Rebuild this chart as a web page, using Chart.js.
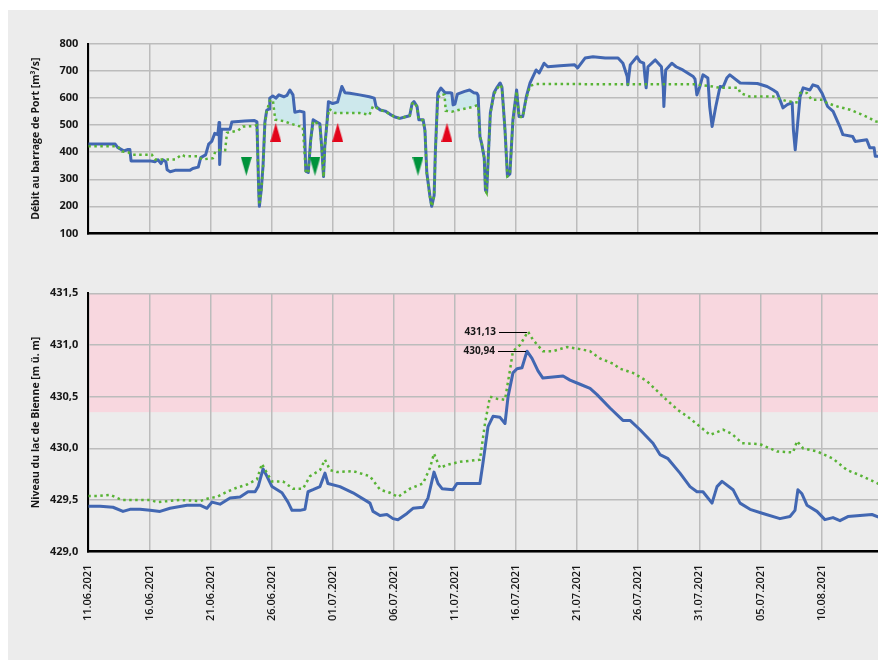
<!DOCTYPE html>
<html>
<head>
<meta charset="utf-8">
<script src="https://cdn.jsdelivr.net/npm/chart.js@4/dist/chart.umd.min.js"></script>
<style>
    html, body { margin: 0; padding: 0; background: #fff; overflow: hidden; }
    body { width: 878px; height: 668px; position: relative; }
    #panel { position: absolute; left: 8px; top: 10px; width: 900px; height: 650px; background: #ececec; }
    canvas { position: absolute; left: 0; }
    #flow { top: 0; width: 900px; height: 250px; }
    #lake { top: 250px; width: 900px; height: 418px; }
</style>
</head>
<body>
<div id="panel"></div>
<canvas id="flow" width="900" height="250"></canvas>
<canvas id="lake" width="900" height="418"></canvas>
<script>
"use strict";

// x = jours depuis le 11.06.2021
const dateLabels = ['11.06.2021', '16.06.2021', '21.06.2021', '26.06.2021', '01.07.2021', '06.07.2021', '11.07.2021',
    '16.07.2021', '21.07.2021', '26.07.2021', '31.07.2021', '05.07.2021', '10.08.2021', '15.08.2021'];

// débit mesuré au barrage de Port [jour, m3/s]
const flowMeasured = [[0,430],[2.2,430],[2.4,418],[2.9,405],[3.25,410],[3.4,410],[3.5,368],[5.05,368],[5.45,365],[5.7,372],
    [5.95,358],[6.1,372],[6.35,365],[6.45,335],[6.7,328],[7.1,333],[8.3,333],[8.55,340],[9.0,345],[9.2,380],[9.6,390],
    [9.85,430],[10.1,440],[10.35,470],[10.6,465],[10.7,510],[10.75,355],[10.9,485],[11.6,485],[11.75,512],[12.8,515],
    [13.6,517],[13.8,512],[13.95,250],[14.0,200],[14.15,260],[14.3,350],[14.45,510],[14.6,555],[14.8,560],[14.85,600],
    [15.1,608],[15.35,600],[15.6,612],[16.0,605],[16.25,610],[16.5,630],[16.75,612],[16.9,548],[17.3,552],[17.65,548],
    [17.8,330],[18.0,325],[18.2,446],[18.4,520],[18.7,512],[18.95,505],[19.1,420],[19.25,310],[19.35,420],[19.55,520],
    [19.65,587],[20.0,580],[20.4,585],[20.75,643],[21.0,620],[21.4,618],[22.2,612],[23.0,605],[23.4,600],[23.55,568],
    [23.9,556],[24.3,552],[24.7,540],[25.1,530],[25.5,525],[25.9,530],[26.3,535],[26.5,580],[26.65,587],[26.9,570],
    [27.05,520],[27.4,520],[27.55,480],[27.7,325],[27.95,240],[28.1,200],[28.3,240],[28.4,400],[28.6,619],[28.85,637],
    [29.2,620],[29.6,620],[29.75,618],[29.85,575],[30.0,578],[30.2,615],[30.8,625],[31.2,630],[31.55,620],[31.8,618],
    [31.9,610],[32.05,458],[32.2,430],[32.4,380],[32.5,260],[32.6,252],[32.75,400],[32.9,545],[33.2,620],[33.45,640],
    [33.7,656],[33.85,641],[34.1,483],[34.3,311],[34.5,320],[34.75,520],[35.05,630],[35.25,532],[35.55,532],[35.85,606],
    [36.15,656],[36.65,704],[36.9,693],[37.3,729],[37.6,716],[38.6,720],[39.8,723],[40.05,712],[40.65,748],[41.3,753],
    [42.3,748],[43.35,748],[43.75,729],[44.1,680],[44.15,649],[44.35,723],[44.9,753],[45.15,735],[45.45,729],[45.55,680],
    [45.65,638],[45.8,716],[46.4,741],[46.9,716],[47.05,640],[47.1,569],[47.25,704],[47.75,729],[48.1,716],[48.65,704],
    [49.5,680],[49.65,670],[49.8,612],[50.05,643],[50.3,686],[50.7,674],[50.85,569],[51.05,495],[51.35,569],[51.7,643],
    [51.95,641],[52.25,674],[52.5,686],[53.35,656],[54.75,654],[55.55,643],[56.05,630],[56.35,621],[56.6,594],[56.85,564],
    [57.2,576],[57.6,583],[57.7,483],[57.85,409],[58.0,483],[58.25,606],[58.5,638],[59.05,630],[59.3,649],[59.7,643],
    [60.05,618],[60.5,569],[60.95,551],[61.5,495],[61.75,465],[62.55,458],[62.75,440],[63.7,446],[63.95,417],[64.3,417],
    [64.4,385],[65,385]];

// débit de référence (pointillé)
const flowReference = [[0,422],[2.4,422],[2.75,403],[3.25,400],[3.6,391],[5.2,391],[5.45,373],[7.1,373],[7.65,391],
    [7.9,385],[9.0,385],[9.3,373],[10.2,378],[10.4,403],[10.9,410],[11.2,408],[11.35,472],[12.25,480],[12.65,495],
    [13.6,497],[13.8,500],[13.95,250],[14.0,205],[14.15,255],[14.3,345],[14.45,505],[14.6,550],[14.85,590],[15.1,594],
    [15.3,520],[16.0,515],[16.6,505],[17.2,497],[17.55,495],[17.8,330],[18.0,322],[18.2,440],[18.4,515],[18.7,508],
    [18.95,500],[19.1,415],[19.25,308],[19.35,415],[19.55,515],[19.7,560],[20.2,545],[22.2,545],[23.0,538],[23.3,570],
    [23.55,565],[23.9,556],[24.3,550],[24.7,540],[25.1,530],[25.5,525],[25.9,530],[26.3,535],[26.5,578],[26.65,585],
    [26.9,568],[27.05,520],[27.4,518],[27.55,478],[27.7,322],[27.95,238],[28.1,200],[28.3,238],[28.4,398],[28.6,600],
    [28.85,615],[29.15,612],[29.25,553],[29.75,550],[30.4,557],[31.0,563],[31.5,568],[31.9,575],[32.05,458],[32.2,430],
    [32.4,378],[32.5,258],[32.6,250],[32.75,398],[32.9,543],[33.2,615],[33.45,635],[33.7,650],[33.85,638],[34.1,480],
    [34.3,311],[34.5,318],[34.75,518],[35.05,625],[35.25,530],[35.55,530],[35.85,600],[36.15,645],[36.6,652],[49.6,651],
    [50.8,645],[51.1,643],[51.7,638],[53.2,638],[53.35,619],[54.1,606],[56.05,606],[56.6,597],[57.2,588],[58.1,584],
    [58.25,619],[58.8,619],[59.2,594],[60.1,594],[60.45,582],[61.3,569],[62.35,557],[63.15,542],[63.9,527],[64.4,514],
    [65,510]];

// périodes où l'écart est surligné [début, fin]
const shadedPeriods = [[14.85, 17.6], [19.65, 23.45], [28.55, 31.95]];

// triangles (verts vers le bas, rouges vers le haut)
const markersDown = [[12.93, 348], [18.55, 348], [26.98, 348]];
const markersUp = [[15.34, 473], [20.41, 473], [29.35, 473]];

// niveau du lac de Bienne mesuré [jour, m ü. m]
const lakeMeasured = [[0,429.44],[0.96,429.44],[2.02,429.43],[2.84,429.39],[3.41,429.41],[4.23,429.41],[5.05,429.40],
    [5.87,429.39],[6.69,429.42],[8.08,429.45],[9.14,429.45],[9.71,429.42],[10.12,429.48],[10.78,429.46],[11.6,429.52],
    [12.42,429.53],[13.07,429.58],[13.65,429.58],[13.9,429.63],[14.3,429.80],[14.62,429.73],[15.03,429.63],[15.85,429.57],
    [16.34,429.48],[16.67,429.40],[17.32,429.40],[17.73,429.41],[17.98,429.58],[18.39,429.60],[18.96,429.63],[19.37,429.76],
    [19.61,429.66],[20.59,429.63],[21.66,429.57],[23.05,429.47],[23.3,429.39],[23.87,429.35],[24.44,429.36],[24.93,429.32],
    [25.34,429.31],[26.08,429.37],[26.57,429.42],[27.39,429.43],[27.8,429.52],[28.29,429.77],[28.62,429.66],[28.95,429.61],
    [29.84,429.60],[30.17,429.66],[32.05,429.66],[32.3,429.86],[32.71,430.21],[33.12,430.31],[33.69,430.30],[34.1,430.24],
    [34.35,430.50],[34.75,430.73],[35.08,430.77],[35.49,430.78],[35.9,430.94],[36.31,430.87],[36.8,430.75],[37.2,430.68],
    [38.03,430.69],[38.85,430.70],[39.42,430.66],[40.24,430.62],[41.06,430.58],[41.63,430.52],[42.69,430.39],[43.75,430.27],
    [44.33,430.27],[45.15,430.18],[46.21,430.05],[46.78,429.94],[47.44,429.90],[48.42,429.76],[49.24,429.63],[49.81,429.58],
    [50.3,429.58],[51.04,429.47],[51.45,429.63],[51.86,429.68],[52.76,429.60],[53.33,429.47],[54.15,429.41],[55.21,429.37],
    [56.6,429.32],[57.42,429.34],[57.83,429.40],[58.07,429.60],[58.4,429.56],[58.81,429.45],[59.63,429.39],[60.28,429.31],
    [60.94,429.33],[61.51,429.30],[62.16,429.34],[63.15,429.35],[64.13,429.36],[65,429.32]];

// niveau de référence (pointillé)
const lakeReference = [[0,429.54],[0.96,429.54],[1.78,429.55],[2.76,429.50],[5.05,429.50],[5.62,429.48],[7.5,429.50],
    [9.14,429.49],[9.96,429.52],[10.53,429.53],[11.35,429.58],[12.17,429.62],[12.99,429.65],[13.8,429.70],[14.21,429.85],
    [14.62,429.76],[15.03,429.68],[15.93,429.68],[16.75,429.61],[17.57,429.61],[18.14,429.73],[18.96,429.79],[19.37,429.89],
    [19.78,429.79],[20.35,429.77],[21.66,429.78],[23.05,429.73],[23.87,429.60],[24.69,429.57],[25.34,429.53],[26.33,429.61],
    [27.39,429.66],[27.96,429.81],[28.29,429.95],[28.78,429.81],[29.35,429.84],[30.42,429.87],[32.05,429.89],[32.46,430.24],
    [32.87,430.50],[33.44,430.48],[34.1,430.47],[34.51,430.76],[34.75,430.94],[35.33,431.00],[35.98,431.13],[36.39,431.05],
    [37.2,430.94],[38.03,430.94],[39.17,430.98],[40.24,430.96],[41.06,430.94],[41.87,430.87],[42.94,430.82],[43.51,430.77],
    [44.57,430.73],[45.72,430.65],[47.03,430.50],[48.26,430.37],[49.0,430.31],[50.06,430.21],[50.88,430.13],[51.94,430.18],
    [52.67,430.14],[53.49,430.05],[54.97,430.04],[56.36,429.97],[57.67,429.96],[58.0,430.07],[58.49,430.00],[59.63,429.97],
    [60.94,429.90],[62.09,429.79],[63.15,429.74],[64.6,429.66],[65,429.63]];

const lakeLimit = 430.35;
const lakePeaks = [[35.98, 431.13], [35.9, 430.94]];

const FONT = "'Open Sans', sans-serif";
const BLUE = '#4267b2', GREEN = '#58b335', GRID = '#bcbcbc', INK = '#161616';

const toXY = arr => arr.map(([x, y]) => ({x, y}));
const within = (arr, [a, b]) => arr.filter(([x]) => x >= a && x <= b);

function triangle(color, up) {
    const c = document.createElement('canvas');
    c.width = 11;
    c.height = 19;
    const ctx = c.getContext('2d');
    ctx.fillStyle = color;
    ctx.beginPath();
    if (up) {
        ctx.moveTo(5.5, 0); ctx.lineTo(11, 19); ctx.lineTo(0, 19);
    } else {
        ctx.moveTo(0, 0); ctx.lineTo(11, 0); ctx.lineTo(5.5, 19);
    }
    ctx.fill();
    return c;
}

function xScale(labels) {
    return {
        type: 'linear', min: 0, max: 65,
        afterFit: s => {
            s.height = labels ? 116.3 : 0;
            // the last label is cut by the page edge, no room kept for it
            s.paddingLeft = 0;
            s.paddingRight = 0;
        },
        grid: {color: GRID, lineWidth: 1.5, drawTicks: false},
        border: {color: '#000', width: 2.5},
        ticks: {
            display: labels, stepSize: 5, autoSkip: false, maxRotation: 90, minRotation: 90, padding: 13,
            color: INK, font: {family: FONT, size: 11, weight: '600'},
            callback: (v, i) => dateLabels[i]
        }
    };
}

function yScale(min, max, step, title, fmt) {
    return {
        min, max,
        afterFit: s => { s.width = 88.3; },
        grid: {color: GRID, lineWidth: 1.5, drawTicks: false},
        border: {color: '#000', width: 2},
        ticks: {stepSize: step, padding: 10, color: INK, font: {family: FONT, size: 11, weight: 'bold'}, callback: fmt},
        title: {
            display: true, text: title, color: INK,
            font: {family: FONT, size: 10.5, weight: 'bold'}, padding: {top: 29.5, bottom: 0}
        }
    };
}

const baseOptions = {
    responsive: false,
    animation: false,
    devicePixelRatio: 1,
    plugins: {legend: {display: false}, tooltip: {enabled: false}},
    elements: {point: {radius: 0}, line: {tension: 0}}
};

// ---- débit ----
const shadeSets = [];
shadedPeriods.forEach(period => {
    shadeSets.push({data: toXY(within(flowMeasured, period)), borderWidth: 0, fill: '+1',
        backgroundColor: '#cde8ec', order: 5});
    shadeSets.push({data: toXY(within(flowReference, period)), borderWidth: 0, fill: false, order: 5});
});

new Chart(document.getElementById('flow'), {
    type: 'line',
    data: {
        datasets: [
            {data: toXY(markersDown), showLine: false, pointRadius: 5, pointStyle: triangle('#00933b', false), order: 0},
            {data: toXY(markersUp), showLine: false, pointRadius: 5, pointStyle: triangle('#e3051b', true), order: 0},
            {data: toXY(flowReference), borderColor: GREEN, borderWidth: 2.5, borderDash: [2.5, 3.5], fill: false, order: 1},
            {data: toXY(flowMeasured), borderColor: BLUE, borderWidth: 3, borderJoinStyle: 'round', fill: false, order: 2},
            ...shadeSets
        ]
    },
    options: {
        ...baseOptions,
        layout: {padding: {top: 44, bottom: 15, left: 0, right: 17.4}},
        scales: {
            x: xScale(false),
            y: yScale(100, 800, 100, 'Débit au barrage de Port [m³/s]', v => v)
        }
    }
});

// ---- niveau du lac ----
const limitBand = {
    id: 'limitBand',
    beforeDraw(chart) {
        const {ctx, chartArea: a, scales: {y}} = chart;
        const top = y.getPixelForValue(y.max), bottom = y.getPixelForValue(lakeLimit);
        ctx.save();
        ctx.fillStyle = '#f8d7df';
        ctx.fillRect(a.left, top, a.right - a.left, bottom - top);
        ctx.restore();
    }
};

const peakLabels = {
    id: 'peakLabels',
    afterDatasetsDraw(chart) {
        const {ctx, scales: {x, y}} = chart;
        ctx.save();
        ctx.strokeStyle = '#000';
        ctx.lineWidth = 1;
        ctx.fillStyle = INK;
        ctx.font = "bold 10px " + FONT;
        ctx.textAlign = 'right';
        ctx.textBaseline = 'middle';
        lakePeaks.forEach(([day, level]) => {
            const px = x.getPixelForValue(day), py = Math.round(y.getPixelForValue(level)) + 0.5;
            ctx.beginPath();
            ctx.moveTo(px - 29, py);
            ctx.lineTo(px - 1, py);
            ctx.stroke();
            ctx.fillText(level.toFixed(2).replace('.', ','), px - 32, py);
        });
        ctx.restore();
    }
};

new Chart(document.getElementById('lake'), {
    type: 'line',
    data: {
        datasets: [
            {data: toXY(lakeReference), borderColor: GREEN, borderWidth: 2.5, borderDash: [2.5, 3.5], fill: false, order: 1},
            {data: toXY(lakeMeasured), borderColor: BLUE, borderWidth: 3, borderJoinStyle: 'round', fill: false, order: 2}
        ]
    },
    options: {
        ...baseOptions,
        layout: {padding: {top: 43.3, bottom: 0, left: 0, right: 17.4}},
        scales: {
            x: xScale(true),
            y: yScale(429, 431.5, 0.5, 'Niveau du lac de Bienne [m ü. m]', v => v.toFixed(1).replace('.', ','))
        }
    },
    plugins: [limitBand, peakLabels]
});
</script>
</body>
</html>
